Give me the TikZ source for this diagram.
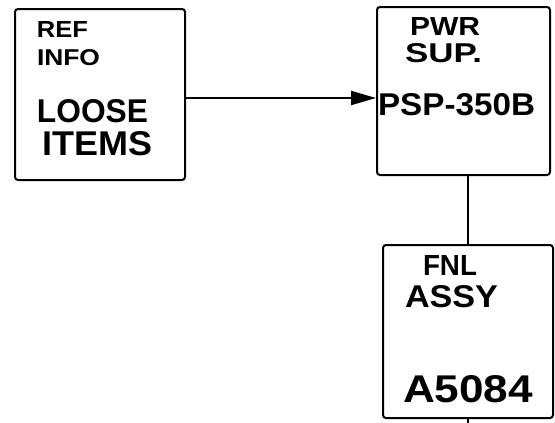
\documentclass[tikz,border=0pt]{standalone}
\usepackage{fontspec}
\setmainfont{Liberation Sans}
\usetikzlibrary{arrows.meta}
\tikzset{
  blk/.style={draw, line width=2pt, rounded corners=3pt, inner sep=0pt},
  lbl/.style={anchor=north west, inner sep=0pt, outer sep=0pt, font=\bfseries},
  conn/.style={line width=2pt},
}
\newcommand{\hw}[3]{\resizebox{#1pt}{#2pt}{#3}}
\begin{document}
\begin{tikzpicture}[x=1pt,y=-1pt]
\useasboundingbox (0,0) rectangle (555,423);
% boxes
\node[blk, minimum width=170pt, minimum height=171pt] (b1) at (100,94.5) {};
\node[blk, minimum width=173pt, minimum height=168pt] (b2) at (463.5,91) {};
\node[blk, minimum width=170pt, minimum height=173pt] (b3) at (468,331.5) {};
% labels
\node[lbl] (t1) at (37,21) {\hw{51}{16}{REF}};
\node[lbl] (t2) at (37,49) {\hw{63}{16}{INFO}};
\node[lbl] (t3) at (37,99) {\hw{111}{23}{LOOSE}};
\node[lbl] (t4) at (42,131) {\hw{110}{24}{ITEMS}};
\node[lbl] (t5) at (410,17) {\hw{70}{18}{PWR}};
\node[lbl] (t6) at (405,43) {\hw{77}{19}{SUP.}};
\node[lbl] (t7) at (378,93) {\hw{157}{22}{PSP-350B}};
\node[lbl] (t8) at (423,255) {\hw{54}{20}{FNL}};
\node[lbl] (t9) at (405,285) {\hw{93}{22}{ASSY}};
\node[lbl] (t10) at (403,375) {\hw{130}{27}{A5084}};
% connectors
\coordinate (e1) at (b1.east |- 0,98);
\coordinate (w2) at (b2.west |- 0,98);
\draw[conn, -{Triangle[length=25pt,width=14pt]}] (e1) -- (w2);
\draw[conn] (b2.south -| b3.north) -- (b3.north);
\coordinate (out) at (468,423);
\draw[conn] (b3.south) -- (out);
\end{tikzpicture}
\end{document}
